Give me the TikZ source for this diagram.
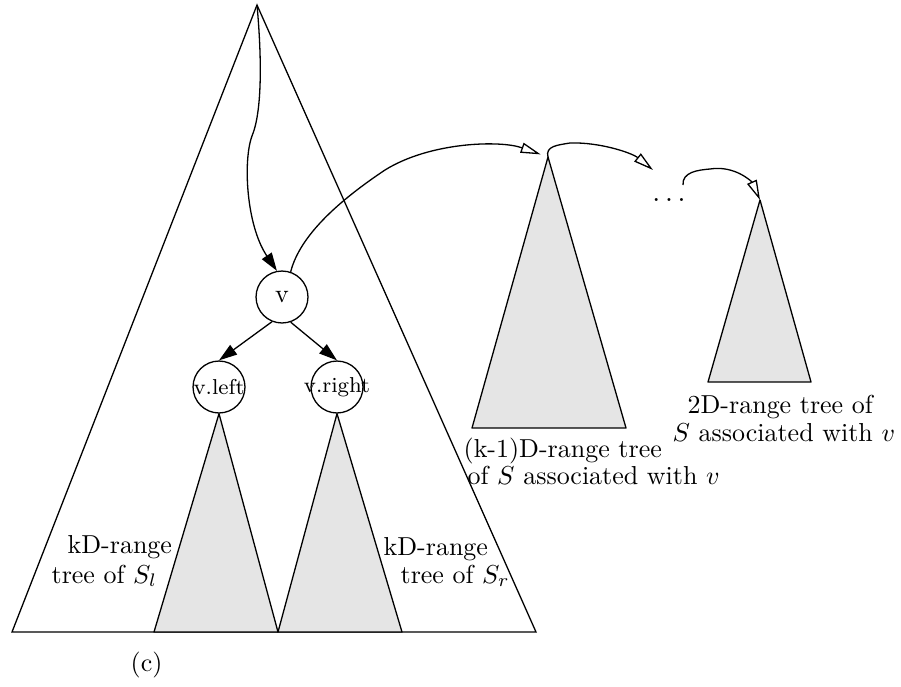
\documentclass[tikz,border=0pt]{standalone}
\usetikzlibrary{arrows.meta}
\begin{document}
\begin{tikzpicture}[x=0.385pt, y=-0.385pt, line width=0.5pt,
    tnode/.style={draw, circle, minimum size=20pt, inner sep=0pt},
    small/.style={font=\fontsize{8.3}{10}\selectfont},
    subtree/.style={draw, fill=black!10, line join=round},
    ptr/.style={-{Triangle[length=7pt, width=4.5pt]}},
    assoc/.style={-{Triangle[open, length=7.7pt, width=4pt, fill=white]}},
    lbl/.style={inner sep=0pt, anchor=base west}
  ]
  \useasboundingbox (0,0) rectangle (901,686);

  % kD-range tree
  \coordinate (root) at (257,5);
  \coordinate (bl) at (12,632);
  \coordinate (br) at (536,632);
  \draw (root) -- (bl) -- (br) -- cycle;

  \node[tnode] (v) at (282,297) {v};
  \node[tnode, small] (vl) at (219,387) {\makebox[0pt]{v.left}};
  \node[tnode, small] (vr) at (337,387) {\makebox[0pt]{v.right}};

  \draw[subtree] (vl.south) -- (154,632) -- (278,632) -- cycle;
  \draw[subtree] (vr.south) -- (278,632) -- (402,632) -- cycle;

  \draw[ptr] (root) .. controls (262,60) and (262,112) .. (252,136)
    .. controls (243,160) and (246,225) .. (v.101);
  \draw[ptr] (v.248) -- (vl.north);
  \draw[ptr] (v.289) -- (vr.north);

  \node[lbl] (lefta) at (67,553) {kD-range};
  \node[lbl] (leftb) at (51,583) {tree of $S_l$};
  \node[lbl] (righta) at (383,555) {kD-range};
  \node[lbl] (rightb) at (400,583) {tree of $S_r$};
  \node[lbl] (caption) at (130,671) {(c)};

  % associated trees
  \coordinate (kmtop) at (548,157);
  \coordinate (twotop) at (760,200);
  \draw[subtree] (kmtop) -- (472,428) -- (626,428) -- cycle;
  \draw[subtree] (twotop) -- (708,382) -- (811,382) -- cycle;

  \node[inner sep=0pt, anchor=base, font=\fontsize{11}{13}\selectfont] (dots) at (669,201) {$\ldots$};
  \coordinate (dotsin) at (653,170);
  \coordinate (dotsout) at (683,185);

  \draw[assoc, shorten >=3pt] (v.71) .. controls (300,235) and (340,200) .. (385,170)
    .. controls (430,142) and (500,140) .. (kmtop);
  \draw[assoc] (kmtop) .. controls (545,146) and (558,145) .. (570,143)
    .. controls (600,142) and (632,153) .. (dotsin);
  \draw[assoc] (dotsout) .. controls (682,172) and (698,170) .. (710,169)
    .. controls (735,165) and (752,182) .. (twotop);

  \node[lbl] (kma) at (463,457) {(k-1)D-range tree};
  \node[lbl] (kmb) at (467,484) {of $S$ associated with $v$};
  \node[lbl] (twoa) at (687,413) {2D-range tree of};
  \node[lbl] (twob) at (672,441) {$S$ associated with $v$};
\end{tikzpicture}
\end{document}
